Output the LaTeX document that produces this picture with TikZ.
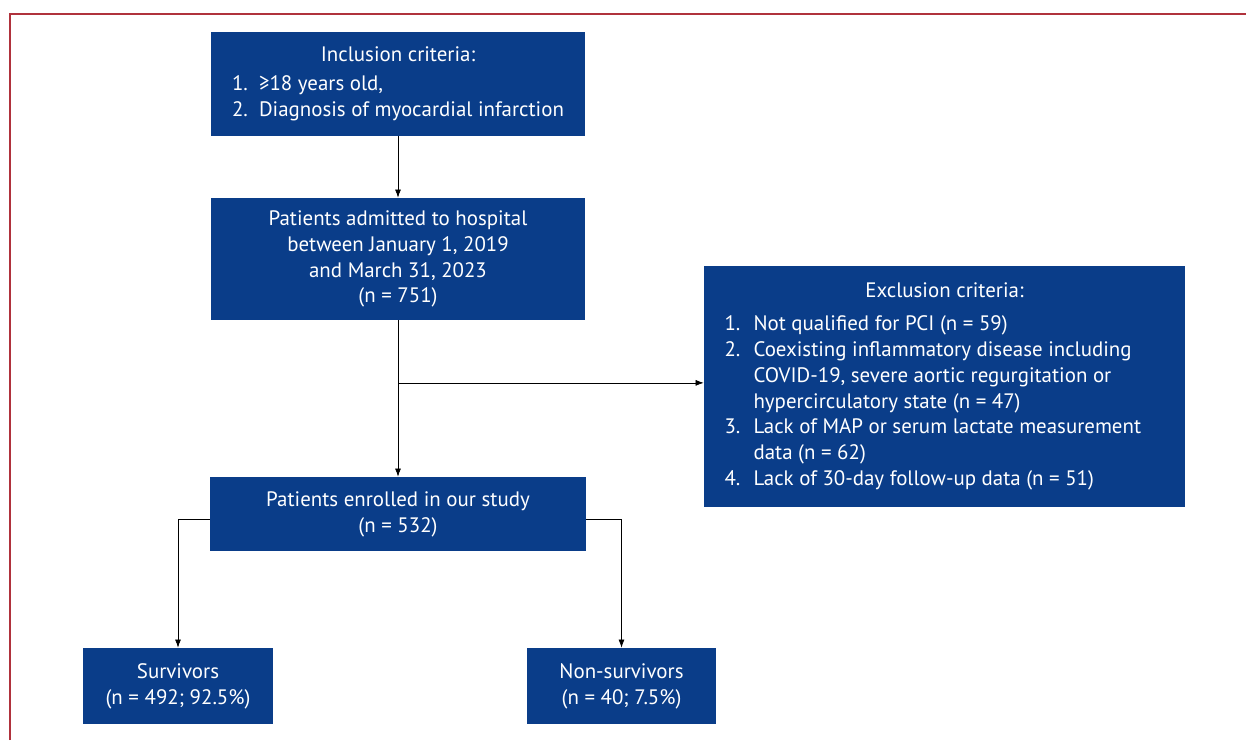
\documentclass[tikz,border=0pt]{standalone}
\usepackage{fontspec}
\setmainfont{PT Sans}
\usetikzlibrary{arrows.meta,calc,positioning}
\definecolor{boxblue}{HTML}{0A3D89}
\definecolor{framered}{HTML}{B0323C}
\definecolor{linegrey}{HTML}{231F20}
\tikzset{
    -{Latex[length=4.6pt,width=3.4pt]},semithick,draw=linegrey,
    box/.style ={rectangle, fill=boxblue, text=white, align=center, inner sep=0pt,
                 font=\fontsize{11.9pt}{14.7pt}\selectfont},
    crit/.style = {box, align=left}
}

\begin{document}
\begin{tikzpicture}[x=0.02cm,y=-0.02cm]

    \useasboundingbox (0,0) rectangle (1246,740);

    % frame of the figure
    \draw[-,framered,line width=0.9pt] (10,740) -- (10,14) -- (1246,14);

    \node[crit, minimum width=7.5cm, minimum height=2.08cm] (incl) at (398,84)
        {\begin{tabular}{@{}p{0.54cm}@{}l@{}}
         \multicolumn{2}{@{}c@{}}{Inclusion criteria:}\\[2pt]
         1. & ≥18 years old,\\
         2. & Diagnosis of myocardial infarction
         \end{tabular}};

    \node[box, minimum width=7.5cm, minimum height=2.44cm] (adm) at (398,259)
        {Patients admitted to hospital\\between January 1, 2019\\and March 31, 2023\\(n = 751)};

    % exclusion box sits right of the main column
    \node[crit, minimum width=9.62cm, minimum height=4.82cm] (excl) at (944.5,386.5)
        {\begin{tabular}{@{}p{0.58cm}@{}p{8.22cm}@{}}
         \multicolumn{2}{@{}c@{}}{Exclusion criteria:}\\[4pt]
         1. & Not qualified for PCI (n = 59)\\
         2. & Coexisting inflammatory disease including\newline
              COVID-19, severe aortic regurgitation or\newline
              hypercirculatory state (n = 47)\\
         3. & Lack of MAP or serum lactate measurement\newline
              data (n = 62)\\
         4. & Lack of 30-day follow-up data (n = 51)
         \end{tabular}};

    \node[box, minimum width=7.52cm, minimum height=1.48cm] (enr) at (398,514)
        {Patients enrolled in our study\\(n = 532)};

    \node[box, minimum width=3.8cm, minimum height=1.52cm] (surv) at (178,686)
        {Survivors\\(n = 492; 92.5\%)};

    \node[box, minimum width=3.78cm, minimum height=1.52cm] (nons) at (621.5,686)
        {Non-survivors\\(n = 40; 7.5\%)};

    % main flow
    \path (incl) edge (adm);
    \path (adm) edge (enr);

    % branch to the exclusions
    \coordinate (br) at ($(adm.south)!0.4!(enr.north)$);
    \draw (br) -- (br -| excl.west);

    % split into outcome groups
    \draw ([yshift=-3pt]enr.west) -| (surv.north);
    \draw ([yshift=-3pt]enr.east) -| (nons.north);

\end{tikzpicture}
\end{document}
